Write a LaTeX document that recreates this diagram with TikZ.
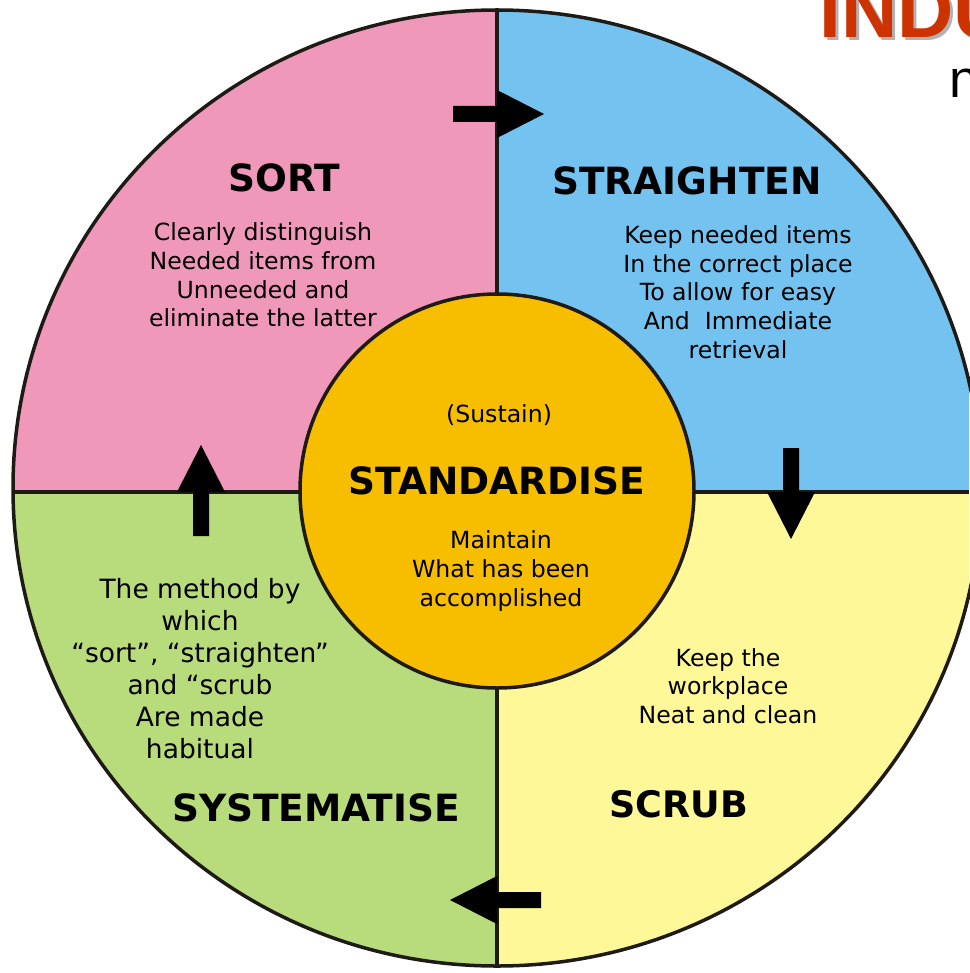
\documentclass[tikz,border=0pt]{standalone}
\usepackage{fontspec}
\setmainfont{DejaVu Sans}
\newfontfamily\titlefont{Liberation Sans}

\definecolor{sortpink}{HTML}{F098BA}
\definecolor{straightblue}{HTML}{73C2EF}
\definecolor{scrubyellow}{HTML}{FFF899}
\definecolor{systgreen}{HTML}{B8DB7C}
\definecolor{standorange}{HTML}{F7BE00}
\definecolor{titlered}{HTML}{CC3300}
\definecolor{rimline}{HTML}{1E1A16}

\tikzset{
  heading/.style={anchor=base,font=\bfseries\fontsize{37.5}{40}\selectfont},
  bodytext/.style={align=center,inner sep=0pt,font=\fontsize{23.6}{28.7}\selectfont},
  flowarrow/.pic={\fill[black] (-44,-8) -- (0,-8) -- (0,-24) -- (47,0)
      -- (0,24) -- (0,8) -- (-44,8) -- cycle;}
}

\begin{document}
\begin{tikzpicture}[x=1pt,y=-1pt]
  \useasboundingbox (0,0) rectangle (969,973);

  % title fragments, cut by the page edge
  \node[anchor=base west,text=black!30,font=\titlefont\bfseries\fontsize{78}{78}\selectfont] (titleshadow) at (819,41) {INDU};
  \node[anchor=base west,text=titlered,font=\titlefont\bfseries\fontsize{78}{78}\selectfont] (title) at (816,38) {INDU};
  \node[anchor=base west,font=\titlefont\fontsize{53}{53}\selectfont] (subtitle) at (946,98) {n};

  % quarters
  \begin{scope}
    \clip (497,488) ellipse [x radius=484,y radius=478];
    \fill[sortpink] (0,0) rectangle (497,492);
    \fill[straightblue] (497,0) rectangle (969,492);
    \fill[systgreen] (0,492) rectangle (497,973);
    \fill[scrubyellow] (497,492) rectangle (969,973);
    \draw[rimline,line width=3.5pt] (497,0) -- (497,973);
    \draw[rimline,line width=3.5pt] (0,492) -- (969,492);
  \end{scope}
  \draw[rimline,line width=3.5pt] (497,488) ellipse [x radius=484,y radius=478];

  % centre
  \node[circle,fill=standorange,draw=rimline,line width=3.5pt,minimum size=394pt] (hub) at (497,491) {};

  \pic at (497,114) {flowarrow};
  \pic[rotate=270] at (791,492) {flowarrow};
  \pic[rotate=180] at (497,900) {flowarrow};
  \pic[rotate=90] at (201,492) {flowarrow};

  \node[heading] (sort) at (284,192) {SORT};
  \node[bodytext] (sorttext) at (263,275) {Clearly distinguish\\Needed items from\\Unneeded and\\eliminate the latter};

  \node[heading] (straighten) at (687,195) {STRAIGHTEN};
  \node[bodytext] (straightentext) at (738,292) {Keep needed items\\In the correct place\\To allow for easy\\And~ Immediate\\retrieval};

  \node[anchor=base,font=\fontsize{23.6}{28.7}\selectfont] (sustain) at (499,422) {(Sustain)};
  \node[heading] (standardise) at (497,494) {STANDARDISE};
  \node[bodytext] (standardisetext) at (501,571) {Maintain\\What has been\\accomplished};

  \node[bodytext] (scrubtext) at (728,686) {Keep the\\workplace\\Neat and clean};
  \node[heading,font=\bfseries\fontsize{36.5}{40}\selectfont] (scrub) at (679,817) {SCRUB};

  \node[bodytext,font=\fontsize{26.5}{32}\selectfont] (systematisetext) at (200,669) {The method by\\which\\“sort”, “straighten”\\and “scrub\\Are made\\habitual};
  \node[heading] (systematise) at (316,821) {SYSTEMATISE};

\end{tikzpicture}
\end{document}
